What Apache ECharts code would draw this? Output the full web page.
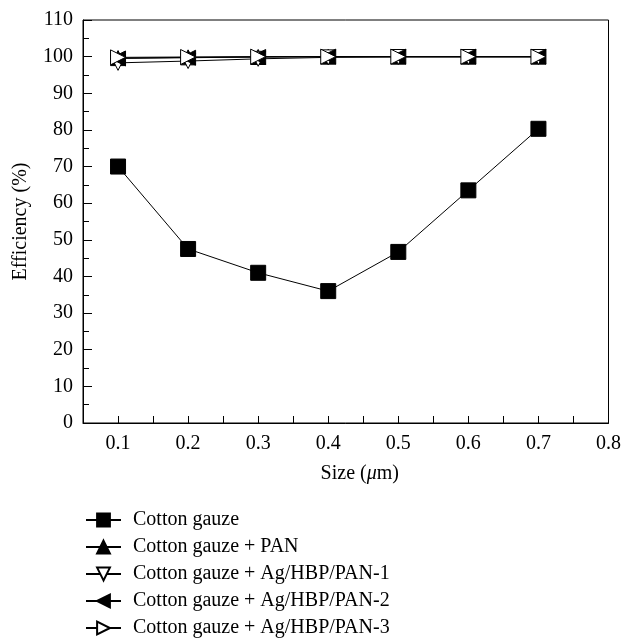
<!DOCTYPE html>
<html>
<head>
<meta charset="utf-8">
<script src="https://cdn.jsdelivr.net/npm/echarts@6/dist/echarts.min.js"></script>
<style>
  html, body { margin: 0; padding: 0; background: #fff; }
  #main { width: 624px; height: 639px; }
</style>
</head>
<body>
<div id="main"></div>
<script>
var sizes = [0.1, 0.2, 0.3, 0.4, 0.5, 0.6, 0.7];
var cotton = [70, 47.5, 41, 36, 46.7, 63.5, 80.3];
var cottonPan = [99.6, 99.8, 99.9, 100, 100, 100, 100];
var agHbp1 = [98.3, 98.8, 99.4, 99.8, 99.9, 99.9, 99.9];
var agHbp2 = [99.5, 99.7, 99.9, 100, 100, 100, 100];
var agHbp3 = [99.8, 99.9, 100, 100, 100, 100, 100];
var seriesNames = [
  'Cotton gauze',
  'Cotton gauze + PAN',
  'Cotton gauze + Ag/HBP/PAN-1',
  'Cotton gauze + Ag/HBP/PAN-2',
  'Cotton gauze + Ag/HBP/PAN-3'
];

var font = 'Liberation Serif';
var myChart = echarts.init(document.getElementById('main'));

function pairs(vals) {
  return sizes.map(function (s, i) { return [s, vals[i]]; });
}

function mkSeries(name, vals, symbol, rotate, filled, size) {
  return {
    name: name,
    type: 'line',
    data: pairs(vals),
    symbol: symbol,
    symbolSize: size,
    symbolRotate: rotate,
    showAllSymbol: true,
    lineStyle: { color: '#000', width: 1 },
    itemStyle: { color: filled ? '#000' : '#fff', borderColor: '#000', borderWidth: 1 },
    emphasis: { disabled: true },
    animation: false
  };
}

// two stacked legend blocks so the column never wraps
function mkLegend(top, names) {
  return {
    orient: 'vertical',
    left: 85, top: top, padding: 0,
    itemWidth: 35, itemHeight: 16, itemGap: 7,
    textStyle: { fontFamily: font, fontSize: 20, color: '#000', padding: [0, 0, 0, 7] },
    data: names
  };
}

var option = {
  backgroundColor: '#fff',
  textStyle: { fontFamily: font, color: '#000' },
  grid: {
    left: 83, right: 14, top: 20, bottom: 216,
    show: true, borderColor: '#000', borderWidth: 1
  },
  legend: [
    mkLegend(510, seriesNames.slice(0, 3)),
    mkLegend(591, seriesNames.slice(3))
  ],
  xAxis: {
    type: 'value',
    min: 0.05, max: 0.8, interval: 0.05,
    name: 'Size ({i|\u03bc}m)',
    nameLocation: 'middle', nameGap: 41,
    nameTextStyle: {
      fontFamily: font, fontSize: 20, color: '#000', padding: [0, 0, 0, 28],
      rich: { i: { fontFamily: font, fontSize: 20, fontStyle: 'italic', color: '#000' } }
    },
    axisLine: { lineStyle: { color: '#000', width: 1 } },
    axisTick: { inside: true, length: 7, lineStyle: { color: '#000' } },
    axisLabel: {
      fontFamily: font, fontSize: 20, color: '#000', margin: 11,
      formatter: function (v) {
        var k = Math.round(v * 100);
        return k % 10 === 0 ? (k / 100).toFixed(1) : '';
      }
    },
    splitLine: { show: false }
  },
  yAxis: {
    type: 'value',
    min: 0, max: 110, interval: 10,
    name: 'Efficiency (%)',
    nameLocation: 'middle', nameGap: 52,
    nameTextStyle: { fontFamily: font, fontSize: 20, color: '#000' },
    axisLine: { show: true, lineStyle: { color: '#000', width: 1 } },
    axisTick: { inside: true, length: 9, lineStyle: { color: '#000' } },
    minorTick: { show: true, splitNumber: 2, length: 6, lineStyle: { color: '#000' } },
    axisLabel: { fontFamily: font, fontSize: 20, color: '#000', margin: 10 },
    splitLine: { show: false }
  },
  series: [
    mkSeries(seriesNames[0], cotton, 'rect', 0, true, 15),
    mkSeries(seriesNames[1], cottonPan, 'triangle', 0, true, 15),
    mkSeries(seriesNames[2], agHbp1, 'triangle', 180, false, 15),
    mkSeries(seriesNames[3], agHbp2, 'triangle', 90, true, 15),
    mkSeries(seriesNames[4], agHbp3, 'triangle', -90, false, 15)
  ]
};
myChart.setOption(option);
</script>
</body>
</html>
